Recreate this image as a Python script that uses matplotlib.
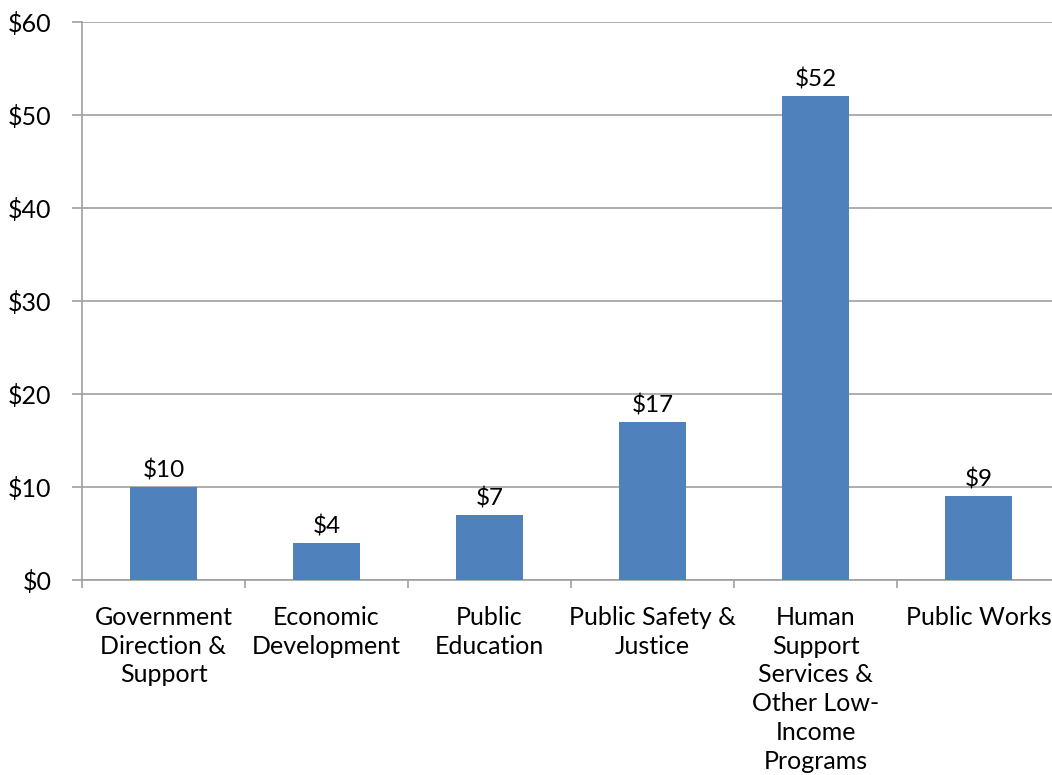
import matplotlib.pyplot as plt
import numpy as np

categories = ['Government\nDirection &\nSupport', 'Economic\nDevelopment', 'Public\nEducation',
              'Public Safety &\nJustice', 'Human\nSupport\nServices &\nOther Low-\nIncome\nPrograms',
              'Public Works']
values = [10, 4, 7, 17, 52, 9]
yticks = [0, 10, 20, 30, 40, 50, 60]

plt.rcParams['font.family'] = ['Lato', 'DejaVu Sans']
fig = plt.figure(figsize=(10.52, 7.75), dpi=100)
# axes runs slightly past the right edge of the figure, like the original
ax = fig.add_axes([82 / 1052, 1 - 580 / 775, 978 / 1052, 558 / 775])

x = np.arange(len(values))
bars = ax.bar(x, values, width=0.405, color='#4F81BD', zorder=3)
for xi, v in zip(x, values):
    ax.text(xi, v + 0.6, '$' + str(v), ha='center', va='bottom', fontsize=17.5, color='#000000')

ax.set_xlim(-0.5, len(values) - 0.5)
ax.set_ylim(0, 60)
ax.set_yticks(yticks)
ax.set_yticklabels(['$' + str(t) for t in yticks], fontsize=18)
ax.yaxis.grid(True, color='#a0a0a0', linewidth=1.2, zorder=0)

ax.set_xticks(x)
ax.set_xticklabels(categories, fontsize=18, linespacing=1.31, va='top')
ax.set_xticks(np.arange(len(values) + 1) - 0.5, minor=True)
ax.tick_params(axis='x', which='major', length=0, pad=18.5)
ax.tick_params(axis='x', which='minor', length=6, color='#a0a0a0', width=1.2)
ax.tick_params(axis='y', length=7, color='#a0a0a0', width=1.2, pad=15)

for s in ['top', 'right']:
    ax.spines[s].set_visible(False)
for s in ['left', 'bottom']:
    ax.spines[s].set_color('#a0a0a0')
    ax.spines[s].set_linewidth(1.2)

plt.savefig('out.png', dpi=100)
